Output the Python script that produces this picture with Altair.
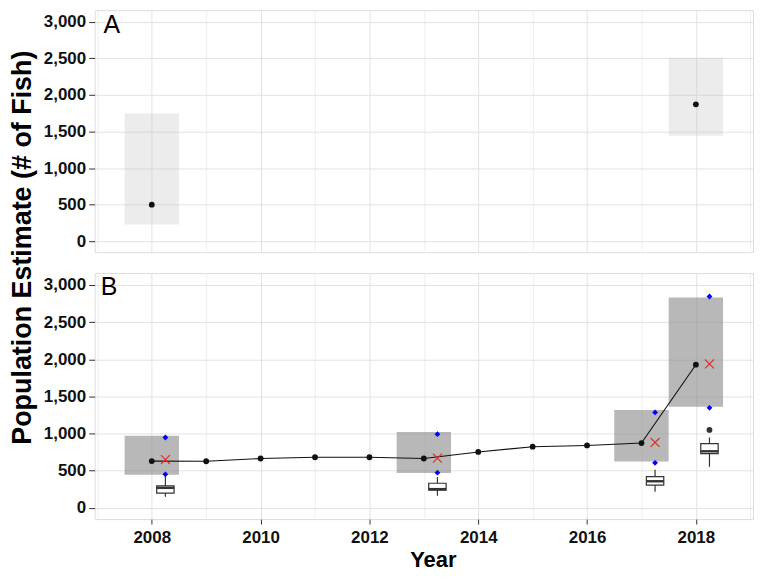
import altair as alt
import pandas as pd

# ---------------- data ----------------
# Panel A
a_years = [2008, 2018]
a_est = [500, 1872]
a_low = [228, 1442]
a_high = [1745, 2510]

# Panel B: annual line
line_years = [2008, 2009, 2010, 2011, 2012, 2013, 2014, 2015, 2016, 2017, 2018]
line_est = [630, 628, 665, 682, 682, 665, 753, 824, 841, 873, 1927]

# Panel B: survey years with intervals
b_years = [2008, 2013, 2017, 2018]
b_low = [448, 470, 625, 1360]
b_high = [970, 1020, 1316, 2831]
b_cross = [651, 669, 881, 1937]
b_blue_hi = [948, 993, 1285, 2845]
b_blue_lo = [452, 474, 607, 1347]

# Box plots
box_wlo = [150, 164, 217, 554]
box_q1 = [199, 239, 306, 731]
box_med = [270, 253, 359, 762]
box_q3 = [296, 332, 421, 864]
box_whi = [425, 415, 515, 948]
outlier_years = [2018]
outlier_vals = [1050]

x_ticks = list(range(2007, 2020))
y_ticks = list(range(0, 3001, 250))

# ---------------- styling helpers ----------------
FONT = "Liberation Sans"
W, HA, HB = 661, 243, 247

xscale = alt.Scale(domain=[2006.95, 2019.05], nice=False, zero=False)
yscale = alt.Scale(domain=[-150, 3160], nice=False, zero=False)

grid_x = {"condition": {"test": "datum.value % 2 === 0", "value": "#e2e2e2"}, "value": "#efefef"}
grid_y = {"condition": {"test": "datum.value % 500 === 0", "value": "#e2e2e2"}, "value": "#efefef"}
tick_x = {"condition": {"test": "datum.value % 2 === 0", "value": "#333333"}, "value": "transparent"}
tick_y = {"condition": {"test": "datum.value % 500 === 0", "value": "#333333"}, "value": "transparent"}


def y_axis(title=None):
    kw = dict(
        values=y_ticks,
        labelExpr="datum.value % 500 === 0 ? format(datum.value, ',') : ''",
        labelOverlap=False,
        labelFont=FONT, labelFontSize=17, labelFontWeight="bold", labelColor="#111111",
        labelPadding=3,
        tickSize=6, tickColor=tick_y, domain=False,
        gridColor=grid_y, gridWidth=1,
    )
    if title:
        kw.update(
            title=title, titleFont=FONT, titleFontSize=27, titleFontWeight="bold",
            titleColor="#000000", titleX=-72, titleY=238, titleAngle=270,
            titleAlign="center", titleBaseline="middle",
        )
    else:
        kw.update(title=None)
    return alt.Axis(**kw)


x_axis_a = alt.Axis(values=x_ticks, labels=False, ticks=False, title=None, domain=False,
                    gridColor=grid_x, gridWidth=1)
x_axis_b = alt.Axis(
    values=x_ticks,
    labelExpr="datum.value % 2 === 0 ? toString(datum.value) : ''",
    labelOverlap=False,
    labelFont=FONT, labelFontSize=17, labelFontWeight="bold", labelColor="#111111",
    labelPadding=6, tickSize=5, tickColor=tick_x, domain=False,
    gridColor=grid_x, gridWidth=1,
    title="Year", titleFont=FONT, titleFontSize=22, titleFontWeight="bold", titleColor="#000000",
    titlePadding=4, titleX=W / 2 + 9,
)

# ---------------- Panel A ----------------
dfa = pd.DataFrame({"year": a_years, "est": a_est, "lo": a_low, "hi": a_high})
baseA = alt.Chart(dfa)
rectA = baseA.transform_calculate(x0="datum.year - 0.5", x1="datum.year + 0.5").mark_rect(
    fill="#c4c4c4", opacity=0.32
).encode(
    x=alt.X("x0:Q", scale=xscale, axis=x_axis_a),
    x2="x1:Q",
    y=alt.Y("lo:Q", scale=yscale, axis=y_axis("Population Estimate (# of Fish)")),
    y2="hi:Q",
)
ptA = baseA.mark_circle(size=34, color="#111111", opacity=1).encode(
    x=alt.X("year:Q", scale=xscale), y=alt.Y("est:Q", scale=yscale)
)
labA = alt.Chart(pd.DataFrame({"t": ["A"]})).mark_text(
    font=FONT, fontSize=25, align="left", baseline="top", color="#000000"
).encode(text="t:N", x=alt.value(9), y=alt.value(3))
panelA = alt.layer(rectA, ptA, labA).properties(width=W, height=HA)

# ---------------- Panel B ----------------
dfl = pd.DataFrame({"year": line_years, "est": line_est})
dfb = pd.DataFrame({
    "year": b_years, "lo": b_low, "hi": b_high, "cross": b_cross,
    "bhi": b_blue_hi, "blo": b_blue_lo,
    "wlo": box_wlo, "q1": box_q1, "med": box_med, "q3": box_q3, "whi": box_whi,
})
dfo = pd.DataFrame({"year": outlier_years, "val": outlier_vals})

rectB = alt.Chart(dfb).transform_calculate(x0="datum.year - 0.5", x1="datum.year + 0.5").mark_rect(
    fill="#8c8c8c", opacity=0.62
).encode(
    x=alt.X("x0:Q", scale=xscale, axis=x_axis_b),
    x2="x1:Q",
    y=alt.Y("lo:Q", scale=yscale, axis=y_axis()),
    y2="hi:Q",
)
lineB = alt.Chart(dfl).mark_line(color="#111111", strokeWidth=1.1).encode(
    x=alt.X("year:Q", scale=xscale), y=alt.Y("est:Q", scale=yscale)
)
ptB = alt.Chart(dfl).mark_circle(size=34, color="#111111", opacity=1).encode(
    x=alt.X("year:Q", scale=xscale), y=alt.Y("est:Q", scale=yscale)
)

shifted = alt.Chart(dfb).transform_calculate(
    xs="datum.year + 0.25", bx0="datum.year + 0.09", bx1="datum.year + 0.41"
)
blue_hi = shifted.mark_point(shape="diamond", size=34, filled=True, color="#0000ff", opacity=1).encode(
    x=alt.X("xs:Q", scale=xscale), y=alt.Y("bhi:Q", scale=yscale)
)
blue_lo = shifted.mark_point(shape="diamond", size=34, filled=True, color="#0000ff", opacity=1).encode(
    x=alt.X("xs:Q", scale=xscale), y=alt.Y("blo:Q", scale=yscale)
)
crossB = shifted.mark_point(
    shape="M-1,-1L1,1M-1,1L1,-1", size=80, filled=False, color="#e0302a", strokeWidth=1.2, opacity=1
).encode(x=alt.X("xs:Q", scale=xscale), y=alt.Y("cross:Q", scale=yscale))
whisk = shifted.mark_rule(color="#333333", strokeWidth=1.2).encode(
    x=alt.X("xs:Q", scale=xscale), y=alt.Y("wlo:Q", scale=yscale), y2="whi:Q"
)
boxes = shifted.mark_rect(fill="#ffffff", stroke="#333333", strokeWidth=1.2).encode(
    x=alt.X("bx0:Q", scale=xscale), x2="bx1:Q", y=alt.Y("q1:Q", scale=yscale), y2="q3:Q"
)
medians = shifted.mark_rule(color="#333333", strokeWidth=2.4).encode(
    x=alt.X("bx0:Q", scale=xscale), x2="bx1:Q", y=alt.Y("med:Q", scale=yscale)
)
outl = alt.Chart(dfo).transform_calculate(xs="datum.year + 0.25").mark_circle(
    size=34, color="#333333", opacity=1
).encode(x=alt.X("xs:Q", scale=xscale), y=alt.Y("val:Q", scale=yscale))
labB = alt.Chart(pd.DataFrame({"t": ["B"]})).mark_text(
    font=FONT, fontSize=25, align="left", baseline="top", color="#000000"
).encode(text="t:N", x=alt.value(6), y=alt.value(2))

panelB = alt.layer(rectB, lineB, ptB, whisk, boxes, medians, outl, blue_hi, blue_lo, crossB, labB).properties(
    width=W, height=HB
)

chart = alt.vconcat(panelA, panelB, spacing=21, bounds="flush", padding=0).configure_view(
    stroke="#333333", strokeWidth=1.2
).configure(background="white")

chart.save("out.html", embed_options={"renderer": "svg", "actions": False})
